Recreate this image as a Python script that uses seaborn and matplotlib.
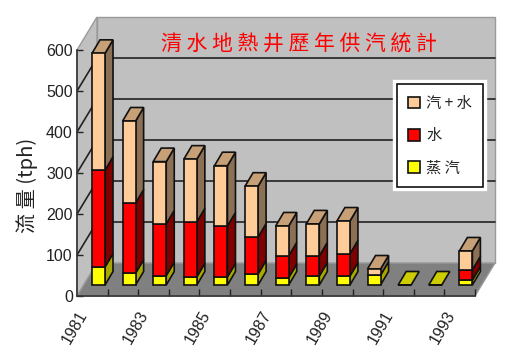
import matplotlib
matplotlib.use("Agg")
import matplotlib.pyplot as plt
import numpy as np
import seaborn as sns
from matplotlib.patches import Patch, Polygon
from matplotlib.patheffects import withStroke
from matplotlib.transforms import Affine2D

years = ["1981", "1982", "1983", "1984", "1985", "1986", "1987", "1988", "1989", "1990", "1991", "1992", "1993"]
shown_years = ["1981", "1983", "1985", "1987", "1989", "1991", "1993"]
steam = np.array([44, 29, 23, 20, 20, 27, 18, 22, 22, 24, 0, 0, 12])
water = np.array([236, 171, 126, 134, 124, 90, 53, 49, 54, 0, 0, 0, 25])
mixed = np.array([285, 200, 152, 153, 147, 124, 73, 78, 80, 15, 0, 0, 46])
y_ticks = [0, 100, 200, 300, 400, 500, 600]

title = "清水地熱井歷年供汽統計"
y_label = "流 量 (tph)"
names = ["蒸 汽", "水", "汽 + 水"]
front = ["#FFFF00", "#FF0000", "#FFCC99"]
side = ["#A8A800", "#800000", "#8C7055"]
top = ["#CCCC00", "#CC0000", "#C8A078"]

WIDTH, HEIGHT = 520, 354
# one category is 30.6 px, 100 tph is 41 px on the front plane
PX_X = 398 / 13
PX_Y = 246 / 600

sns.set_theme(style="white")
plt.rcParams["font.family"] = ["Liberation Sans", "DejaVu Sans"]
cjk = ["Noto Sans CJK TC", "DejaVu Sans"]

fig = plt.figure(figsize=(WIDTH / 100, HEIGHT / 100), dpi=100, facecolor="white")
ax = fig.add_axes([77 / WIDTH, (HEIGHT - 296) / HEIGHT, 398 / WIDTH, 246 / HEIGHT])
ax.patch.set_visible(False)

bottoms = [np.zeros(13), steam, steam + water]
for values, base, color in zip([steam, water, mixed], bottoms, front):
    sns.barplot(x=years, y=values, bottom=base, color=color, saturation=1, width=13 / PX_X,
                edgecolor="#111111", linewidth=1.2, ax=ax, clip_on=False, zorder=2)

x0, x1 = -0.5, 12.5
ax.set_xlim(x0, x1)
ax.set_ylim(0, 600)

# bars stand part way into the floor
off_x, off_y = 6.2 / PX_X, 11 / PX_Y
for bar in ax.patches:
    bar.set_x(bar.get_x() + off_x)
    bar.set_y(bar.get_y() + off_y)

back_x, back_y = 20 / PX_X, 33 / PX_Y
wall = "#C0C0C0"
wall_edge = "#9A9A9A"


def face(points, color, edge=wall_edge, lw=1.0, zorder=0.5):
    ax.add_patch(Polygon(points, closed=True, facecolor=color, edgecolor=edge, linewidth=lw,
                         clip_on=False, zorder=zorder))


face([(x0 + back_x, back_y), (x1 + back_x, back_y), (x1 + back_x, 600 + back_y), (x0 + back_x, 600 + back_y)], wall)
face([(x0, 0), (x0 + back_x, back_y), (x0 + back_x, 600 + back_y), (x0, 600)], wall)
face([(x0, 0), (x1, 0), (x1 + back_x, back_y), (x0 + back_x, back_y)], "#808080")

for tick in y_ticks[1:-1]:
    ax.plot([x0, x0 + back_x, x1 + back_x], [tick, tick + back_y, tick + back_y], color="#222222",
            linewidth=1.2, clip_on=False, zorder=0.6)

# depth of a bar, drawn on the right and on top of its front face
dep_x, dep_y = 8 / PX_X, 13.5 / PX_Y
half = 13 / PX_X / 2
for i in range(len(years)):
    left = i - half + off_x
    right = i + half + off_x
    level = off_y
    last = top[0]
    for values, s_color, t_color in zip([steam, water, mixed], side, top):
        if values[i] > 0:
            face([(right, level), (right + dep_x, level + dep_y),
                  (right + dep_x, level + values[i] + dep_y), (right, level + values[i])],
                 s_color, "#111111", 1.2, 1.5)
            level += values[i]
            last = t_color
    face([(left, level), (right, level), (right + dep_x, level + dep_y), (left + dep_x, level + dep_y)],
         last, "#111111", 1.2, 1.5)

sns.despine(ax=ax)
for name in ["left", "bottom"]:
    ax.spines[name].set_color("#333333")
    ax.spines[name].set_linewidth(1.2)
    ax.spines[name].set_zorder(1)

ax.set_yticks(y_ticks)
ax.tick_params(axis="y", direction="in", length=4, width=1, color="#222222", labelsize=11.5,
               labelcolor="#222222", pad=3, left=True)
ax.set_xticks([years.index(y) for y in shown_years])
ax.set_xticklabels(shown_years, rotation=60, ha="right", va="top", rotation_mode="anchor")
ax.set_xticks(np.arange(0.5, 13), minor=True)
ax.tick_params(axis="x", which="major", length=0, labelsize=11.5, labelcolor="#222222", pad=9)
ax.tick_params(axis="x", which="minor", direction="in", length=5, width=1, color="#222222", bottom=True)
for label in ax.get_xticklabels():
    label.set_transform(label.get_transform() + Affine2D().translate(-15, 0))
ax.set_xlabel("")
ax.set_ylabel("")

fig.text(299 / WIDTH, 1 - 45 / HEIGHT, " ".join(title), color="#FF0000", fontsize=15, family=cjk,
         ha="center", va="center")
fig.text(27 / WIDTH, 1 - 185 / HEIGHT, y_label, color="#222222", fontsize=14.5, family=cjk,
         rotation=90, ha="center", va="center")

handles = [Patch(facecolor=front[i], edgecolor="#111111", linewidth=1.2, label=names[i]) for i in [2, 1, 0]]
legend = ax.legend(handles=handles, loc="upper left", bbox_to_anchor=((397 - 77) / 398, (296 - 84) / 246),
                   borderaxespad=0, fancybox=False, framealpha=1, edgecolor="#111111", facecolor="white",
                   prop={"family": cjk, "size": 11}, handlelength=0.8, handleheight=0.8,
                   labelspacing=1.0, handletextpad=0.4, borderpad=0.7)
legend.set_zorder(5)
legend.get_frame().set_linewidth(1.2)
legend.get_frame().set_path_effects([withStroke(linewidth=6, foreground="white")])

fig.savefig("out.png", dpi=100)
